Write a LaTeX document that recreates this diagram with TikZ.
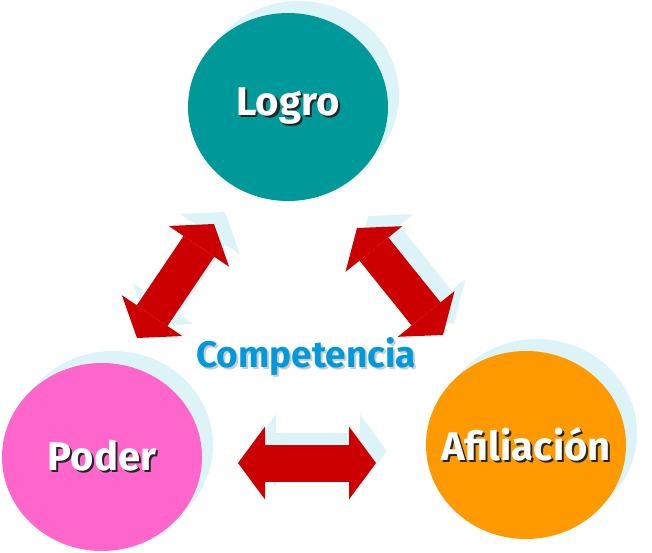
\documentclass[tikz,border=0pt]{standalone}
\usepackage{fontspec}
\setmainfont{Fira Sans}
\usetikzlibrary{shapes.geometric,arrows.meta,shadows}
\definecolor{logroteal}{HTML}{009999}
\definecolor{poderpink}{HTML}{FF66CC}
\definecolor{afilorange}{HTML}{FF9900}
\definecolor{arrowred}{HTML}{CC0000}
\definecolor{paleshadow}{HTML}{DCF4F7}
\definecolor{compblue}{HTML}{0099DD}
\newcommand{\shtext}[2]{\rlap{\kern2pt\raisebox{-2pt}{\textcolor{#1}{#2}}}#2}

\begin{document}
\begin{tikzpicture}[x=1pt,y=-1pt,
  blob/.style={ellipse,minimum width=200pt,minimum height=188pt,inner sep=0pt,
    text=white,font=\fontsize{40}{40}\selectfont\bfseries,
    drop shadow={shadow xshift=11pt,shadow yshift=12pt,fill=paleshadow,opacity=1}},
  fattip/.tip={Triangle[length=27pt,width=73pt,line width=0pt 0 0]},
  bigarrow/.style={line width=37pt,arrowred,fattip-fattip},
  arrowshade/.style={bigarrow,paleshadow,transform canvas={shift={(11pt,12pt)}}}]
\useasboundingbox (0,0) rectangle (652,552);
\coordinate (pl1) at (137,338);
\coordinate (pl2) at (214,224);
\coordinate (la1) at (357,228);
\coordinate (la2) at (443,335);
\coordinate (pa1) at (238,463);
\coordinate (pa2) at (376,463);
\draw[arrowshade] (pl1) -- (pl2);
\draw[arrowshade] (la1) -- (la2);
\draw[arrowshade] (pa1) -- (pa2);
\draw[bigarrow] (pl1) -- (pl2);
\draw[bigarrow] (la1) -- (la2);
\draw[bigarrow] (pa1) -- (pa2);
\node[blob,fill=logroteal] (logro) at (288,107) {\makebox[0pt]{\shtext{black!85}{Logro}}};
\node[blob,fill=poderpink] (poder) at (102,457) {\makebox[0pt]{\shtext{black!85}{Poder}}};
\node[blob,fill=afilorange] (afil) at (526,445) {\makebox[0pt]{\shtext{black!85}{Afiliación}}};
\node[text=compblue,font=\fontsize{37}{37}\selectfont\bfseries,anchor=base]
  (comp) at (306,367) {\shtext{black!20}{Competencia}};
\end{tikzpicture}
\end{document}
